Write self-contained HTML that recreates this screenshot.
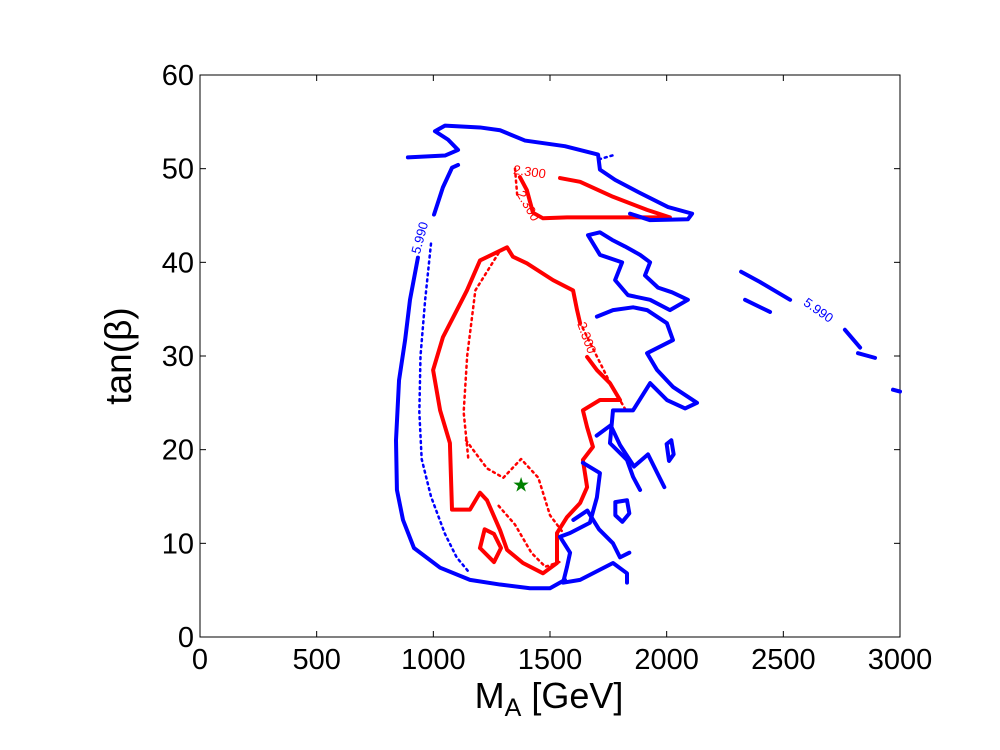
<!DOCTYPE html>
<html><head><meta charset="utf-8"><style>
body{margin:0;background:#fff;}
svg{display:block;font-family:"Liberation Sans",sans-serif;}
</style></head><body>
<svg id="chart" width="1000" height="750" viewBox="0 0 1000 750"></svg>
<script>
// ---- data (M_A [GeV], tan beta) ----
const xTicks=[0,500,1000,1500,2000,2500,3000];
const yTicks=[0,10,20,30,40,50,60];
const blueTopContour=[[891,51.2],[1050,51.4],[1106,52.0],[1063,53.1],[1007,54.0],[1050,54.6],[1200,54.4],[1286,54.1],[1393,53.0],[1564,52.4],[1706,51.5],[1714,49.9],[1779,48.8],[1886,47.4],[2006,45.9],[2109,45.2],[2091,44.6],[1929,44.5],[1843,45.2]];
const blueLeftUpper=[[1106,50.4],[1080,50.1],[1041,48.0],[1003,45.1]];
const blueLeftLower=[[934,40.5],[900,36.0],[879,31.7],[853,27.4],[840,21.0],[844,15.7],[870,12.5],[917,9.5],[1029,7.4],[1157,6.1],[1286,5.6],[1414,5.2],[1500,5.2],[1564,6.1]];
const blueRightA=[[1663,42.9],[1714,43.2],[1766,42.4],[1821,41.7],[1886,40.8],[1929,40.0],[1907,38.6],[1963,37.3],[2023,36.8],[2091,36.0],[2014,34.9],[1929,36.0],[1834,36.5],[1779,38.1],[1809,40.0],[1714,40.8],[1663,42.9]];
const blueRightB=[[1701,34.2],[1770,34.9],[1856,35.2],[1916,34.9],[2001,33.5],[2027,31.7],[1916,30.3],[1959,28.5],[2027,26.7],[2130,25.0],[2079,24.4],[2001,25.3],[1929,27.1],[1856,24.2],[1770,24.2],[1757,20.7],[1830,18.9],[1856,17.1],[1886,15.7]];
const blueRightC=[[1641,18.6],[1714,17.5],[1701,14.9],[1671,12.2],[1586,11.1],[1543,10.7],[1586,9.0],[1573,7.5],[1556,5.8],[1629,6.1],[1770,7.9],[1830,6.8],[1830,5.8]];
const blueRightD=[[1700,21.5],[1760,22.6],[1800,20.5],[1860,18.2],[1920,19.5],[1960,17.5],[1990,16.0]];
const blueRightE=[[1600,12.5],[1660,13.5],[1710,11.5],[1770,10.0],[1800,8.5],[1840,9.0]];
const blueLoop1=[[1780,14.4],[1830,14.6],[1840,13.2],[1810,12.3],[1780,13.0],[1780,14.4]];
const blueLoop2=[[2000,20.6],[2020,21.0],[2030,19.5],[2010,18.8],[2000,20.6]];
const blueFarA=[[2319,39.0],[2400,37.9],[2529,36.0]];
const blueFarB=[[2764,32.8],[2829,30.9]];
const blueFarC=[[2336,36.0],[2443,34.7]];
const blueFarD=[[2820,30.3],[2893,29.8]];
const blueFarE=[[2970,26.4],[3000,26.2]];
const blueDotLeft=[[990,42.0],[965,36.0],[945,30.0],[940,24.0],[950,19.0],[990,15.0],[1050,11.0],[1100,8.5],[1150,7.0]];
const blueDotTop=[[1710,51.0],[1780,51.5]];
const redMain=[[1659,29.9],[1701,28.5],[1757,27.1],[1800,25.3],[1714,25.3],[1641,24.2],[1659,22.4],[1684,20.3],[1641,18.9],[1659,16.0],[1629,14.3],[1573,12.8],[1530,11.1],[1530,7.9],[1470,6.8],[1384,7.9],[1316,9.3],[1286,11.4],[1230,14.6],[1200,15.4],[1157,13.6],[1080,13.6],[1071,20.7],[1029,24.2],[999,28.5],[1041,32.0],[1101,34.9],[1144,37.0],[1200,40.2],[1316,41.6],[1341,40.6],[1401,39.9],[1513,38.1],[1599,37.0],[1616,34.9],[1629,33.5]];
const redTop=[[1371,49.1],[1401,47.7],[1427,45.3],[1470,44.7],[1573,44.8],[1830,44.8],[2014,44.8],[1916,45.6],[1770,47.0],[1629,48.6],[1543,49.0]];
const redLoopLow=[[1200,9.5],[1260,8.0],[1290,9.5],[1260,11.0],[1220,11.5],[1200,9.5]];
const redDotLeft=[[1280,41.0],[1180,37.0],[1145,30.0],[1130,24.0],[1150,19.0]];
const redDotInner=[[1140,21.0],[1230,18.0],[1300,17.0],[1376,19.0],[1450,17.0],[1500,13.0],[1560,11.0]];
const redDotLow=[[1280,14.0],[1350,12.0],[1420,9.0],[1480,7.5],[1540,8.0]];
const redDotTop=[[1350,50.0],[1360,47.0]];
const redDotRight=[[1640,33.0],[1700,30.0],[1760,27.0],[1830,24.0]];
const bestFit=[1376,16.3];

// ---- axes ----
const X0=200,X1=900,Y0=637,Y1=75;
const sx=v=>X0+(v-0)/(3000-0)*(X1-X0);
const sy=v=>Y0-(v-0)/(60-0)*(Y0-Y1);
const svg=document.getElementById('chart');
const NS='http://www.w3.org/2000/svg';
function mk(tag,attrs,parent){const e=document.createElementNS(NS,tag);for(const k in attrs)e.setAttribute(k,attrs[k]);(parent||svg).appendChild(e);return e;}

const frame=mk('rect',{x:X0,y:Y1,width:X1-X0,height:Y0-Y1,fill:'none',stroke:'#000','stroke-width':1});



xTicks.forEach(t=>{
  const x=sx(t);
  const l1=mk('line',{x1:x,x2:x,y1:Y0,y2:Y0-6,stroke:'#000'});
  
  
  const l2=mk('line',{x1:x,x2:x,y1:Y1,y2:Y1+6,stroke:'#000'});
  
  
  const tx=mk('text',{x:x,y:669,'font-size':29,'text-anchor':'middle',fill:'#000'});
  tx.textContent=t;
  
  
});
yTicks.forEach(t=>{
  const y=sy(t);
  const l1=mk('line',{x1:X0,x2:X0+6,y1:y,y2:y,stroke:'#000'});
  
  
  const l2=mk('line',{x1:X1,x2:X1-6,y1:y,y2:y,stroke:'#000'});
  
  
  const tx=mk('text',{x:194,y:y+10,'font-size':29,'text-anchor':'end',fill:'#000'});
  tx.textContent=t;
  
  
});
const xl=mk('text',{x:549,y:708,'font-size':36,'text-anchor':'middle',fill:'#000'});
xl.innerHTML='M<tspan font-size="25" dy="8">A</tspan><tspan dy="-8"> [GeV]</tspan>';


const yl=mk('text',{x:0,y:0,'font-size':37,'text-anchor':'middle',fill:'#000',transform:'translate(131,356) rotate(-90)'});
yl.textContent='tan(β)';



const g=mk('g',{});


function line(pts,color,dash,name){
  const p=mk('polyline',{points:pts.map(d=>sx(d[0])+','+sy(d[1])).join(' '),fill:'none',stroke:color,'stroke-width':dash?2.5:4,'stroke-linejoin':'round','stroke-linecap':'round'},g);
  if(dash)p.setAttribute('stroke-dasharray','2 4');
  
  
}
const B='#0000ff',R='#ff0000';
line(blueDotLeft,B,true,'blue-dotted-contour');
line(blueDotTop,B,true,'blue-dotted-contour');
line(redDotLeft,R,true,'red-dotted-contour');
line(redDotInner,R,true,'red-dotted-contour');
line(redDotLow,R,true,'red-dotted-contour');
line(redDotTop,R,true,'red-dotted-contour');
line(redDotRight,R,true,'red-dotted-contour');
line(redMain,R,false,'red-contour-main');
line(redTop,R,false,'red-contour-top');
line(redLoopLow,R,false,'red-contour-loop');
line(blueTopContour,B,false,'blue-contour-top');
line(blueLeftUpper,B,false,'blue-contour-left');
line(blueLeftLower,B,false,'blue-contour-left');
line(blueRightA,B,false,'blue-contour-right');
line(blueRightB,B,false,'blue-contour-right');
line(blueRightC,B,false,'blue-contour-right');
line(blueRightD,B,false,'blue-contour-right');
line(blueRightE,B,false,'blue-contour-right');
line(blueLoop1,B,false,'blue-contour-island');
line(blueLoop2,B,false,'blue-contour-island');
line(blueFarA,B,false,'blue-contour-far');
line(blueFarB,B,false,'blue-contour-far');
line(blueFarC,B,false,'blue-contour-far');
line(blueFarD,B,false,'blue-contour-far');
line(blueFarE,B,false,'blue-contour-far');

function lab(txt,mx,tb,rot,color){
  const t=mk('text',{x:0,y:0,'font-size':13,'text-anchor':'middle',fill:color,transform:`translate(${sx(mx)},${sy(tb)}) rotate(${rot})`});
  t.textContent=txt;
  
  
}
lab('5.990',960,42.5,-75,B);
lab('5.990',2640,34.5,35,B);
lab('2.300',1410,49.2,8,R);
lab('2.300',1390,45.8,60,R);
lab('2.300',1640,31.8,70,R);

const s=mk('text',{x:sx(bestFit[0]),y:sy(bestFit[1])+7,'font-size':20,'text-anchor':'middle',fill:'#008000'});
s.textContent='★';


</script>
</body></html>
